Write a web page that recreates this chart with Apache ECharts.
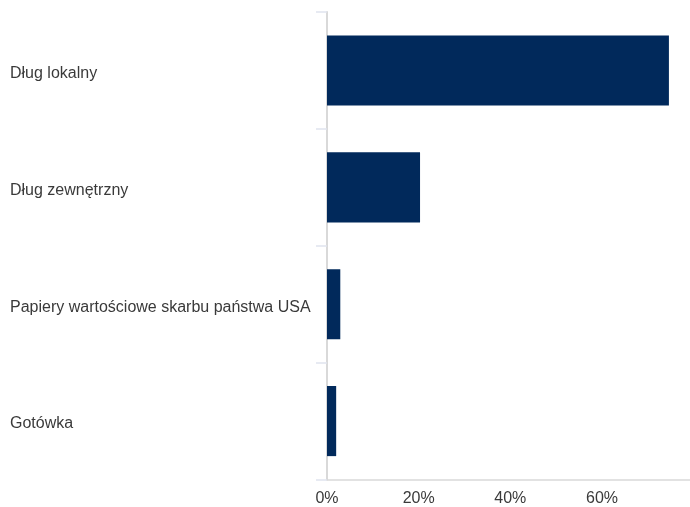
<!DOCTYPE html>
<html>
<head>
<meta charset="utf-8">
<script src="https://cdn.jsdelivr.net/npm/echarts@6/dist/echarts.min.js"></script>
<style>
html,body{margin:0;padding:0;background:#fff;}
#c{width:690px;height:507px;}
</style>
</head>
<body>
<div id="c"></div>
<script>
const categories = ['Dług lokalny', 'Dług zewnętrzny', 'Papiery wartościowe skarbu państwa USA', 'Gotówka'];
const values = [74.6, 20.3, 2.9, 2.0];
const xTicks = [0, 20, 40, 60];
const xMax = 79.2;

const chart = echarts.init(document.getElementById('c'));
chart.setOption({
  animation: false,
  grid: { left: 327, right: 0, top: 12, bottom: 27.5, containLabel: false },
  xAxis: {
    type: 'value',
    min: xTicks[0],
    max: xMax,
    interval: 20,
    axisLine: { show: true, lineStyle: { color: '#d9d9d9', width: 1.5 } },
    axisTick: { show: false },
    splitLine: { show: false },
    axisLabel: {
      showMaxLabel: false,
      formatter: v => (xTicks.indexOf(v) >= 0 ? v + '%' : ''),
      color: '#3a3a3a',
      fontFamily: 'Liberation Sans, Arial, sans-serif',
      fontSize: 16,
      margin: 11
    }
  },
  yAxis: {
    type: 'category',
    inverse: true,
    data: categories,
    axisLine: { show: true, lineStyle: { color: '#d9d9d9', width: 2 } },
    axisTick: { show: true, length: 11, lineStyle: { color: '#dfe3ee', width: 1.5 } },
    axisLabel: {
      align: 'left',
      verticalAlign: 'top',
      lineHeight: 6,
      margin: 317,
      color: '#3a3a3a',
      fontFamily: 'Liberation Sans, Arial, sans-serif',
      fontSize: 16
    }
  },
  series: [{
    type: 'bar',
    data: values,
    barWidth: '60%',
    itemStyle: { color: '#01295b' }
  }]
});
</script>
</body>
</html>
